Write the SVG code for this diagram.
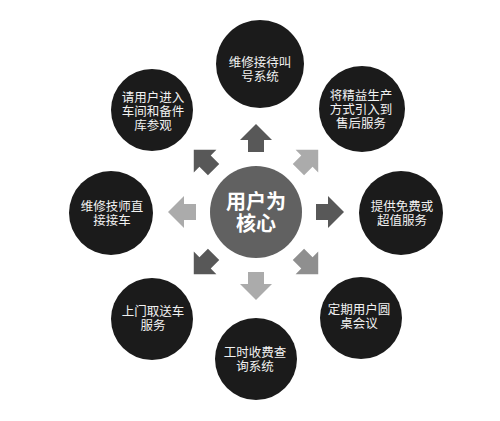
<svg xmlns="http://www.w3.org/2000/svg" xmlns:xlink="http://www.w3.org/1999/xlink" width="500" height="421" viewBox="0 0 500 421">
  <style>
    .outer { fill: #1b1b1b; }
    .core { fill: #616161; }
    .lbl { font-family: "Liberation Sans", "Noto Sans CJK SC", sans-serif; font-size: 12.5px; fill: #f2f2f2; text-anchor: middle; }
    .corelbl { font-family: "Liberation Sans", "Noto Sans CJK SC", sans-serif; font-size: 20px; font-weight: bold; fill: #ffffff; text-anchor: middle; }
    .dark { fill: #585858; }
    .mid { fill: #8f8f8f; }
    .light { fill: #ababab; }
  </style>
  <defs>
    <path id="arrow" d="M -8,-60 L 8,-60 L 8,-72 L 16,-72 L 0,-88 L -16,-72 L -8,-72 Z"/>
  </defs>
  <rect width="500" height="421" fill="#ffffff"/>

  <g id="connectors">
    <use xlink:href="#arrow" class="dark" transform="translate(256,212) rotate(0)"/>
    <use xlink:href="#arrow" class="light" transform="translate(256,212) rotate(45)"/>
    <use xlink:href="#arrow" class="dark" transform="translate(256,212) rotate(90)"/>
    <use xlink:href="#arrow" class="mid" transform="translate(256,212) rotate(135)"/>
    <use xlink:href="#arrow" class="light" transform="translate(256,212) rotate(180)"/>
    <use xlink:href="#arrow" class="dark" transform="translate(256,212) rotate(225)"/>
    <use xlink:href="#arrow" class="light" transform="translate(256,212) rotate(270)"/>
    <use xlink:href="#arrow" class="dark" transform="translate(256,212) rotate(315)"/>
  </g>

  <g id="core">
    <circle class="core" cx="256" cy="212" r="46"/>
    <text class="corelbl" x="256" y="209">用户为<tspan x="256" dy="22">核心</tspan></text>
  </g>

  <g id="n-top">
    <circle class="outer" cx="260" cy="64" r="44"/>
    <text class="lbl" x="260" y="67">维修接待叫<tspan x="260" dy="14">号系统</tspan></text>
  </g>

  <g id="n-topright">
    <circle class="outer" cx="362" cy="109" r="43"/>
    <text class="lbl" x="361" y="100">将精益生产<tspan x="361" dy="14">方式引入到</tspan><tspan x="361" dy="14">售后服务</tspan></text>
  </g>

  <g id="n-right">
    <circle class="outer" cx="401" cy="213" r="42"/>
    <text class="lbl" x="402" y="211">提供免费或<tspan x="402" dy="14">超值服务</tspan></text>
  </g>

  <g id="n-bottomright">
    <circle class="outer" cx="361" cy="318" r="41"/>
    <text class="lbl" x="359" y="314">定期用户圆<tspan x="359" dy="14">桌会议</tspan></text>
  </g>

  <g id="n-bottom">
    <circle class="outer" cx="256" cy="359" r="41"/>
    <text class="lbl" x="255" y="357">工时收费查<tspan x="255" dy="14">询系统</tspan></text>
  </g>

  <g id="n-bottomleft">
    <circle class="outer" cx="152" cy="319" r="41"/>
    <text class="lbl" x="153" y="316">上门取送车<tspan x="153" dy="14">服务</tspan></text>
  </g>

  <g id="n-left">
    <circle class="outer" cx="111" cy="213" r="42"/>
    <text class="lbl" x="112" y="211">维修技师直<tspan x="112" dy="14">接接车</tspan></text>
  </g>

  <g id="n-topleft">
    <circle class="outer" cx="152" cy="110" r="41"/>
    <text class="lbl" x="153" y="102">请用户进入<tspan x="153" dy="14">车间和备件</tspan><tspan x="153" dy="14">库参观</tspan></text>
  </g>
</svg>
